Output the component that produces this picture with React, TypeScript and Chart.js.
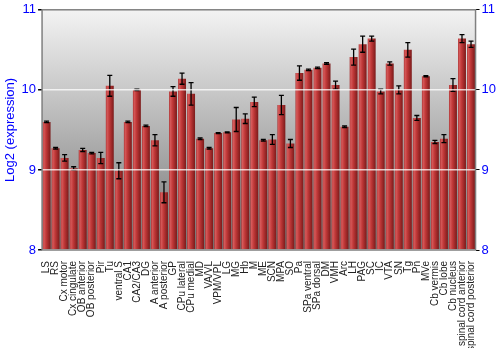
import React, { useEffect, useRef } from "react";
import { Chart, registerables } from "chart.js";

Chart.register(...registerables);

const categories = [
  "LS", "RS", "Cx motor", "Cx cingulate", "OB anterior", "OB posterior", "Pir", "Tu",
  "ventral S", "CA1", "CA2/CA3", "DG", "A anterior", "A posterior", "GP", "CPu lateral",
  "CPu medial", "MD", "VA/VL", "VPM/VPL", "LG", "MG", "Hb", "M", "ME", "SCN", "MPA", "SO",
  "Pa", "SPa ventral", "SPa dorsal", "DM", "VMH", "Arc", "LH", "PAG", "SC", "IC", "VTA",
  "SN", "Tg", "Pn", "MVe", "Cb vermis", "Cb lobe", "Cb nucleus", "spinal cord anterior",
  "spinal cord posterior",
];

const values = [
  9.6, 9.27, 9.15, 9.02, 9.25, 9.21, 9.15, 10.05,
  8.99, 9.6, 10.0, 9.55, 9.37, 8.72, 9.98, 10.14,
  9.95, 9.39, 9.27, 9.46, 9.47, 9.63, 9.64, 9.85, 9.37, 9.38, 9.81, 9.33,
  10.21, 10.25, 10.275, 10.33, 10.06, 9.54, 10.41, 10.57, 10.64, 9.98, 10.33,
  10.0, 10.5, 9.65, 10.17, 9.35, 9.39, 10.06, 10.64,
  10.57,
];

const errors = [
  0.01, 0.01, 0.04, 0.02, 0.02, 0.01, 0.07, 0.13,
  0.1, 0.01, 0.01, 0.01, 0.07, 0.13, 0.06, 0.07,
  0.14, 0.01, 0.01, 0.006, 0.006, 0.15, 0.06, 0.06, 0.01, 0.06, 0.12, 0.05,
  0.09, 0.01, 0.01, 0.01, 0.05, 0.01, 0.1, 0.1, 0.03, 0.03, 0.02,
  0.05, 0.09, 0.03, 0.006, 0.02, 0.05, 0.08, 0.05,
  0.04,
];

const yTicks = [8, 9, 10, 11];

const FONT = "'Liberation Sans', Arial, sans-serif";

function fillBg(chart: any) {
  const { ctx, chartArea } = chart;
  if (!chartArea) return;
  const g = ctx.createLinearGradient(0, chartArea.top, 0, chartArea.bottom);
  g.addColorStop(0, "#f3f3f3");
  g.addColorStop(1, "#747474");
  ctx.save();
  ctx.fillStyle = g;
  ctx.fillRect(chartArea.left, chartArea.top, chartArea.right - chartArea.left, chartArea.bottom - chartArea.top);
  ctx.restore();
}

const bgPlugin = {
  id: "bgPlugin",
  beforeDraw(chart: any) {
    fillBg(chart);
  },
};

const errorPlugin = {
  id: "errorPlugin",
  afterDatasetsDraw(chart: any) {
    const { ctx } = chart;
    const xs = chart.scales.x;
    const ys = chart.scales.y;
    ctx.save();
    ctx.strokeStyle = "#000";
    ctx.lineWidth = 1.3;
    values.forEach((v, i) => {
      const e = errors[i];
      const x = xs.getPixelForValue(i);
      const yTop = ys.getPixelForValue(v + e);
      const yBot = ys.getPixelForValue(v - e);
      ctx.beginPath();
      ctx.moveTo(x, yTop);
      ctx.lineTo(x, yBot);
      ctx.moveTo(x - 2.5, yTop);
      ctx.lineTo(x + 2.5, yTop);
      ctx.moveTo(x - 2.5, yBot);
      ctx.lineTo(x + 2.5, yBot);
      ctx.stroke();
    });
    ctx.restore();
  },
  afterDraw(chart: any) {
    const { ctx, chartArea } = chart;
    ctx.save();
    ctx.strokeStyle = "#808080";
    ctx.lineWidth = 1.5;
    ctx.strokeRect(chartArea.left, chartArea.top, chartArea.right - chartArea.left, chartArea.bottom - chartArea.top);
    ctx.restore();
  },
};

export default function App() {
  const ref = useRef<HTMLCanvasElement | null>(null);
  useEffect(() => {
    document.body.style.margin = "0";
    if (!ref.current) return;
    const n = categories.length;
    const chart = new Chart(ref.current, {
      type: "bar",
      data: {
        labels: categories,
        datasets: [
          {
            data: values,
            backgroundColor: (c: any) => {
              const ch = c.chart;
              const xs = ch.scales?.x;
              if (!xs || !ch.chartArea) return "#b83232";
              const cx = xs.getPixelForValue(c.dataIndex);
              const w = ((ch.chartArea.right - ch.chartArea.left) / n) * 0.88;
              const g = ch.ctx.createLinearGradient(cx - w / 2, 0, cx + w / 2, 0);
              g.addColorStop(0, "#a83030");
              g.addColorStop(0.15, "#d65a5a");
              g.addColorStop(0.45, "#c03838");
              g.addColorStop(0.85, "#8e2222");
              g.addColorStop(1, "#7a1c1c");
              return g;
            },
            borderWidth: 0,
            barPercentage: 0.88,
            categoryPercentage: 1,
            yAxisID: "y",
          },
        ],
      },
      options: {
        animation: false,
        responsive: false,
        maintainAspectRatio: false,
        layout: { padding: { top: 4, right: 2, left: 2, bottom: 2 } },
        plugins: { legend: { display: false }, tooltip: { enabled: false } },
        scales: {
          x: {
            grid: { display: false },
            border: { display: false },
            afterFit: (s: any) => {
              s.height = 98;
            },
            ticks: {
              autoSkip: false,
              maxRotation: 90,
              minRotation: 90,
              color: "#222",
              padding: 3,
              font: { family: FONT, size: 10 },
            },
          },
          y: {
            min: 8,
            max: 11,
            afterBuildTicks: (s: any) => {
              s.ticks = yTicks.map((v) => ({ value: v }));
            },
            grid: {
              color: "rgba(255,255,255,0.75)",
              lineWidth: 1.5,
              z: 1,
              tickLength: 4,
              tickColor: "#000",
            },
            border: { display: false },
            ticks: {
              color: "#0000ff",
              padding: 2,
              font: { family: FONT, size: 13 },
            },
            title: {
              display: true,
              text: "Log2 (expression)",
              color: "#0000ff",
              padding: 1,
              font: { family: FONT, size: 13 },
            },
          },
          y2: {
            position: "right",
            display: true,
            min: 8,
            max: 11,
            afterBuildTicks: (s: any) => {
              s.ticks = yTicks.map((v) => ({ value: v }));
            },
            grid: { drawOnChartArea: false, tickLength: 4, tickColor: "#000" },
            border: { display: false },
            ticks: {
              color: "#0000ff",
              padding: 2,
              font: { family: FONT, size: 13 },
            },
          },
        },
      },
      plugins: [bgPlugin, errorPlugin],
    } as any);
    return () => chart.destroy();
  }, []);
  return (
    <div style={{ width: 500, height: 350 }}>
      <canvas ref={ref} width={500} height={350} style={{ display: "block" }} />
    </div>
  );
}
